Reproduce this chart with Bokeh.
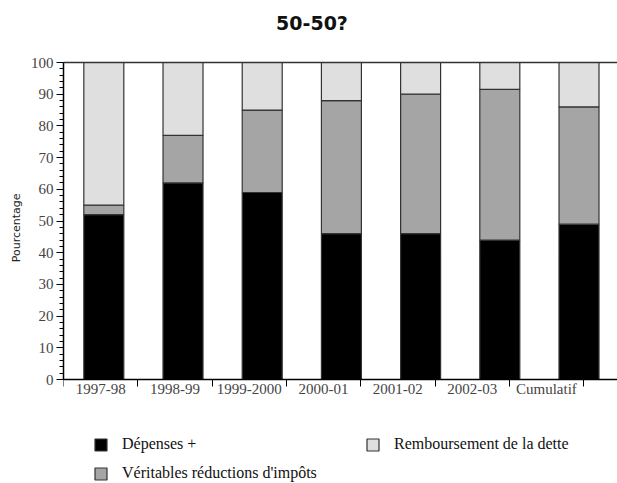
from bokeh.plotting import figure
from bokeh.models import (Range1d, LinearAxis, FixedTicker, SingleIntervalTicker,
                          Legend, LegendItem, Span, Title, Label)
from bokeh.embed import file_html
from bokeh.resources import INLINE

# ---- data ----
categories = ["1997-98", "1998-99", "1999-2000", "2000-01", "2001-02", "2002-03", "Cumulatif"]
depenses = [52, 62, 59, 46, 46, 44, 49]
reductions = [3, 15, 26, 42, 44, 47.5, 37]
remboursement = [45, 23, 15, 12, 10, 8.5, 14]
series_names = ["Dépenses +", "Véritables réductions d'impôts", "Remboursement de la dette"]
chart_title = "50-50?"
y_title = "Pourcentage"

colors = ["#000000", "#a6a5a6", "#e0dfe0"]
serif = "Liberation Serif"

xs = list(range(len(categories)))
data = dict(x=xs, dep=depenses, red=reductions, rem=remboursement)

# the frame fills the picture's height; title and legend live in its margins
p = figure(width=617, height=483, output_backend="svg", toolbar_location=None,
           x_range=Range1d(-0.509, 6.486), y_range=Range1d(-32.8, 119.56),
           x_axis_location=None, y_axis_location=None,
           min_border_left=63, min_border_right=0, min_border_top=0, min_border_bottom=0)
p.outline_line_color = None
p.grid.visible = False
p.background_fill_color = "white"

renderers = p.vbar_stack(["dep", "red", "rem"], x="x", width=0.505, source=data,
                         fill_color=colors, line_color="#333333", line_width=1.2)

# chart title
p.add_layout(Label(x=248.5, y=460.5, x_units="screen", y_units="screen", text=chart_title,
                   text_align="center", text_baseline="middle",
                   text_font="DejaVu Sans", text_font_style="bold", text_font_size="19px",
                   text_color="#111111"))

# y axis
yax = LinearAxis(ticker=SingleIntervalTicker(interval=10, num_minor_ticks=5), bounds=(0, 100))
yax.axis_line_color = "#000000"
yax.axis_line_width = 1.5
yax.major_tick_in = 0
yax.major_tick_out = 7
yax.minor_tick_in = 0
yax.minor_tick_out = 4
yax.major_tick_line_color = "#000000"
yax.minor_tick_line_color = "#000000"
yax.major_label_text_font = serif
yax.major_label_text_font_size = "15px"
yax.major_label_standoff = 3
p.add_layout(yax, "left")

# y axis title, placed beside the 0..100 part of the axis
p.add_layout(Title(text=y_title, align="right", offset=193, standoff=10,
                   text_font="DejaVu Sans", text_font_size="11px", text_font_style="normal",
                   text_color="#222222"), "left")

# x axis on its own range (category cells narrower than the bar spacing), drawn at y = 0
ncat = len(categories)
p.extra_x_ranges = {"ax": Range1d(0, 554 / 74.3)}
centers = [i + 0.5 for i in range(ncat)]
xax = LinearAxis(x_range_name="ax", fixed_location=0,
                 ticker=FixedTicker(ticks=centers, minor_ticks=list(range(ncat + 1))))
xax.major_label_overrides = {c: lab for c, lab in zip(centers, categories)}
xax.axis_line_color = "#000000"
xax.axis_line_width = 1.5
xax.major_tick_in = 0
xax.major_tick_out = 0
xax.minor_tick_in = 7
xax.minor_tick_out = 0
xax.minor_tick_line_color = "#000000"
xax.major_label_text_font = serif
xax.major_label_text_font_size = "15px"
xax.major_label_standoff = -17
p.add_layout(xax, "above")

# top line
p.add_layout(Span(location=100, dimension="width", line_color="#333333", line_width=1.5))

# legend
legend = Legend(items=[LegendItem(label=n, renderers=[r]) for n, r in zip(series_names, renderers)],
                location=(30, 1), ncols=2, orientation="vertical",
                glyph_width=15, glyph_height=15, label_height=17, label_width=232,
                label_standoff=14, spacing=11, padding=0, margin=0,
                border_line_color=None, background_fill_alpha=0,
                label_text_font=serif, label_text_font_size="16px", label_text_color="#111111")
p.add_layout(legend, "center")

open("out.html", "w").write(file_html(p, INLINE))
